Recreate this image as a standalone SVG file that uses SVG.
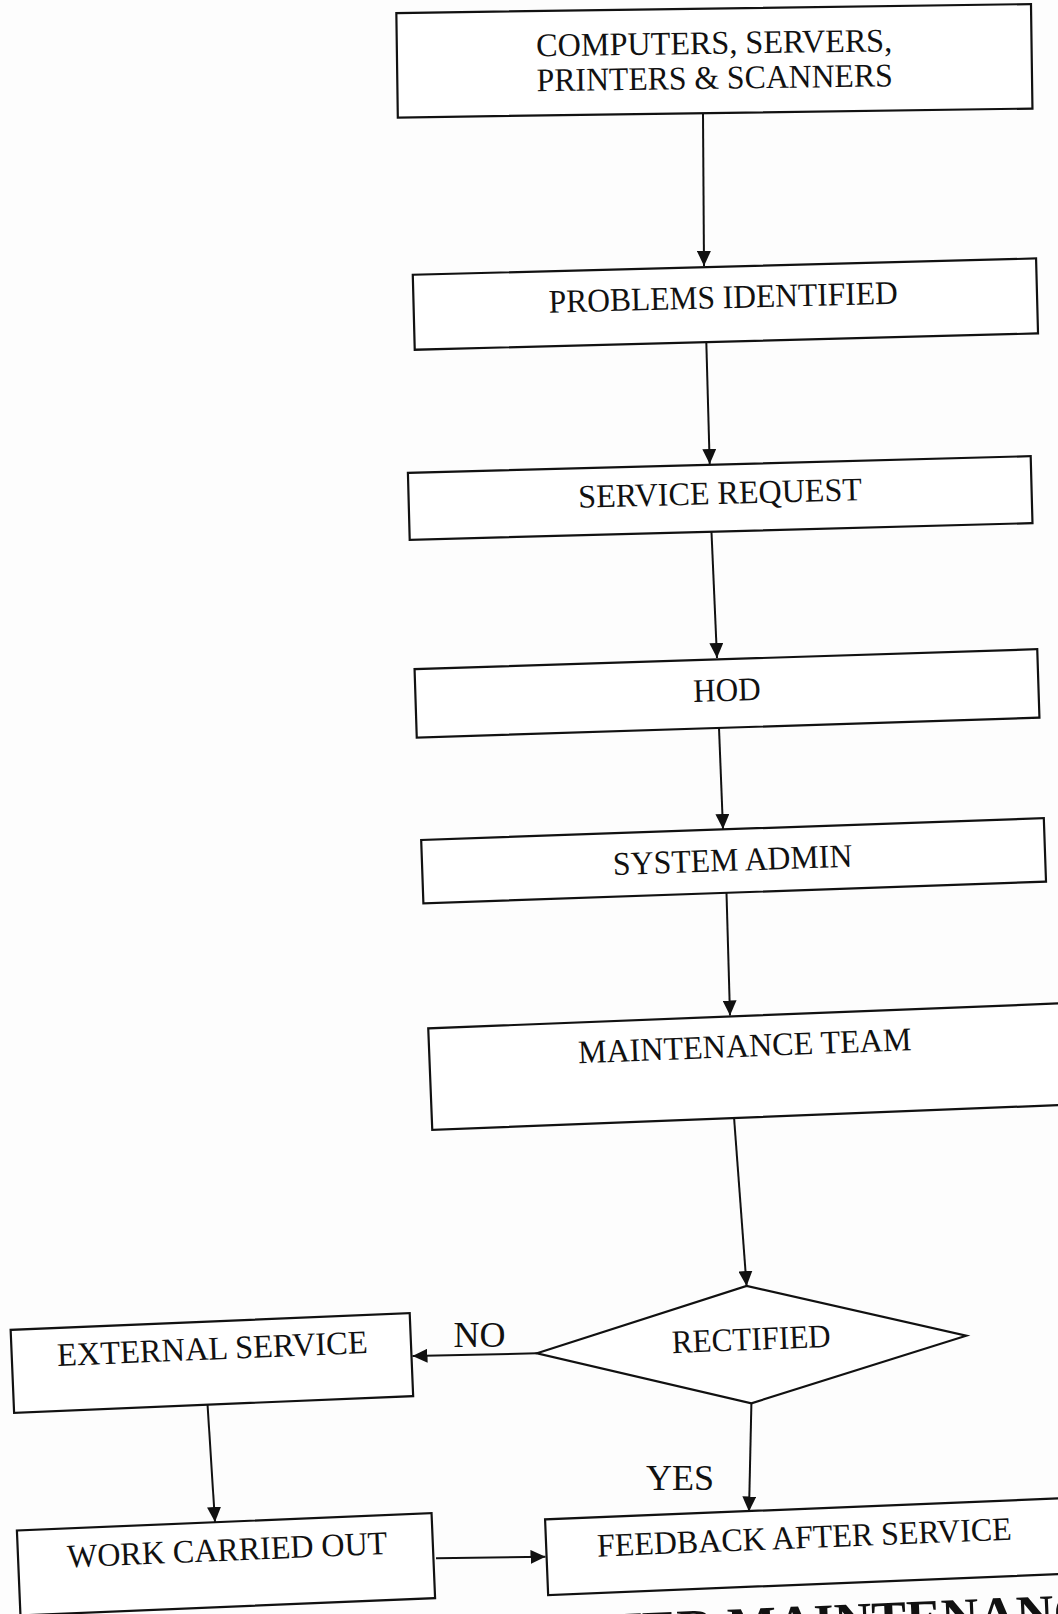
<svg xmlns="http://www.w3.org/2000/svg" width="1058" height="1614" viewBox="0 0 1058 1614">
<defs>
<style>
.box{fill:#fff;stroke:#111;stroke-width:2.2}
.t{font-family:"Liberation Serif","Times New Roman",serif;font-size:33px;fill:#111;text-anchor:middle}
.lbl{font-family:"Liberation Serif","Times New Roman",serif;font-size:36px;fill:#111;text-anchor:middle}
.hd{font-family:"Liberation Serif","Times New Roman",serif;font-size:52px;font-weight:bold;fill:#111}
.c{fill:none;stroke:#111;stroke-width:2}
</style>
<marker id="ah" viewBox="0 0 15 14" markerWidth="15" markerHeight="14" refX="15" refY="7" orient="auto" markerUnits="userSpaceOnUse">
<path d="M0,0 L15,7 L0,14 z" fill="#111"/>
</marker>
</defs>
<rect width="1058" height="1614" fill="#fdfdfd"/>

<g id="connectors">
<line class="c" x1="703" y1="114" x2="704" y2="266" marker-end="url(#ah)"/>
<line class="c" x1="706.3" y1="342" x2="709.7" y2="464" marker-end="url(#ah)"/>
<line class="c" x1="711.4" y1="530" x2="717" y2="658" marker-end="url(#ah)"/>
<line class="c" x1="719" y1="728" x2="723" y2="829" marker-end="url(#ah)"/>
<line class="c" x1="726.5" y1="893" x2="730" y2="1015.5" marker-end="url(#ah)"/>
<line class="c" x1="734" y1="1117" x2="746.6" y2="1286" marker-end="url(#ah)"/>
<line class="c" x1="537" y1="1353.3" x2="412.5" y2="1356" marker-end="url(#ah)"/>
<line class="c" x1="207" y1="1396" x2="215" y2="1522" marker-end="url(#ah)"/>
<line class="c" x1="436" y1="1558.3" x2="545.5" y2="1556.7" marker-end="url(#ah)"/>
<line class="c" x1="751.4" y1="1403.3" x2="749" y2="1511.5" marker-end="url(#ah)"/>
<text class="lbl" x="479.5" y="1347">NO</text>
<text class="lbl" x="680" y="1490">YES</text>
</g>

<g id="n1" transform="translate(714.4 60.8) rotate(-0.81)">
<rect class="box" x="-317.35" y="-52.25" width="634.7" height="104.5"/>
<text class="t" x="0" y="-7" textLength="356" lengthAdjust="spacingAndGlyphs">COMPUTERS, SERVERS,</text>
<text class="t" x="0" y="28" textLength="356" lengthAdjust="spacingAndGlyphs">PRINTERS &amp; SCANNERS</text>
</g>

<g id="n2" transform="translate(725.4 304.1) rotate(-1.5)">
<rect class="box" x="-311.75" y="-37.5" width="623.5" height="75"/>
<text class="t" x="-2" y="4" textLength="349" lengthAdjust="spacingAndGlyphs">PROBLEMS IDENTIFIED</text>
</g>

<g id="n3" transform="translate(720.2 498) rotate(-1.54)">
<rect class="box" x="-311.5" y="-33.5" width="623" height="67"/>
<text class="t" x="0" y="6" textLength="283.6" lengthAdjust="spacingAndGlyphs">SERVICE REQUEST</text>
</g>

<g id="n4" transform="translate(727 693.4) rotate(-1.84)">
<rect class="box" x="-311.5" y="-34.25" width="623" height="68.5"/>
<text class="t" x="0" y="7.5" textLength="67.5" lengthAdjust="spacingAndGlyphs">HOD</text>
</g>

<g id="n5" transform="translate(733.6 860.8) rotate(-2)">
<rect class="box" x="-311.5" y="-31.75" width="623" height="63.5"/>
<text class="t" x="-1" y="10" textLength="239.4" lengthAdjust="spacingAndGlyphs">SYSTEM ADMIN</text>
</g>

<g id="n6" transform="translate(750 1066.5) rotate(-2.27)">
<rect class="box" x="-320" y="-50.8" width="640" height="101.6"/>
<text class="t" x="-4.5" y="-10" textLength="333.6" lengthAdjust="spacingAndGlyphs">MAINTENANCE TEAM</text>
</g>

<g id="n7">
<polygon class="box" points="537,1353.3 746.6,1286 966.2,1335.7 751.4,1403.3"/>
<text class="t" transform="translate(751.7 1350) rotate(-2.3)" x="0" y="0" textLength="158.8" lengthAdjust="spacingAndGlyphs">RECTIFIED</text>
</g>

<g id="n8" transform="translate(211.9 1363) rotate(-2.4)">
<rect class="box" x="-199.7" y="-41.5" width="399.4" height="83"/>
<text class="t" x="1" y="-3.5" textLength="310.8" lengthAdjust="spacingAndGlyphs">EXTERNAL SERVICE</text>
</g>

<g id="n9" transform="translate(226 1564.3) rotate(-2.4)">
<rect class="box" x="-207.5" y="-42.5" width="415" height="85"/>
<text class="t" x="1.7" y="-3.5" textLength="320.5" lengthAdjust="spacingAndGlyphs">WORK CARRIED OUT</text>
</g>

<g id="n10" transform="translate(811.4 1546.4) rotate(-2.34)">
<rect class="box" x="-265" y="-37.85" width="530" height="75.7"/>
<text class="t" x="-6.7" y="1.5" textLength="415" lengthAdjust="spacingAndGlyphs">FEEDBACK AFTER SERVICE</text>
</g>

<text class="hd" transform="translate(412 1657) rotate(-2.4)" x="0" y="0">COMPUTER MAINTENANCE</text>
</svg>
